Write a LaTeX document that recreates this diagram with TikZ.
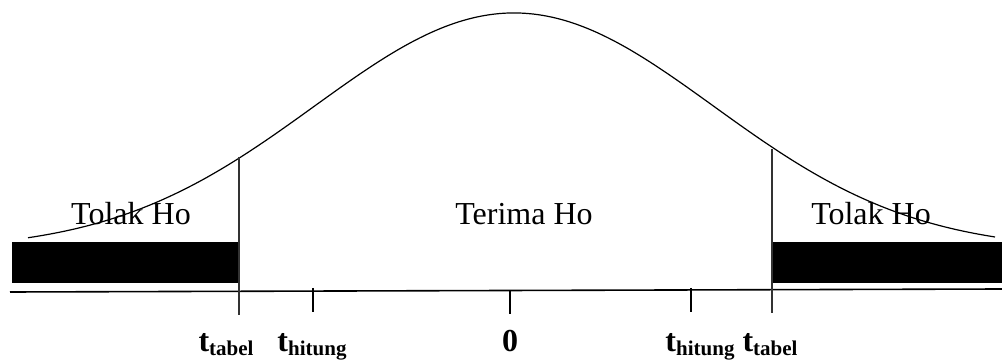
\documentclass[tikz,border=0pt]{standalone}
\usepackage{fontspec}
\setmainfont{Liberation Serif}
\newcommand{\tsubl}[1]{t\raisebox{-4pt}{\fontsize{21}{21}\selectfont #1}}

\begin{document}
\begin{tikzpicture}[
    x=1pt, y=-1pt,
    region/.style={font=\fontsize{32}{36}\selectfont, inner sep=0pt, anchor=base},
    tlab/.style={font=\fontsize{32}{36}\selectfont\bfseries, inner sep=0pt, anchor=base},
    bar/.style={fill=black},
    cut/.style={draw=black!80, line width=1.2pt},
    tick/.style={draw=black, line width=1.2pt},
  ]
    \useasboundingbox (0,0) rectangle (1002,363);
    \fill[bar] (12,242) rectangle (239,283);
    \fill[bar] (772,242) rectangle (1002,283);
    \draw[line width=1.2pt] plot[domain=28:995, samples=200, smooth]
      (\x, {250-237*exp(-((\x-514)/100)^2/7.9744)});
    \coordinate (axl) at (10,292);
    \coordinate (axr) at (1002,289);
    \draw[line width=1.6pt] (axl) -- (axr);
    \coordinate (cl) at (239,157);
    \coordinate (cld) at (239,315);
    \coordinate (cr) at (772,149);
    \coordinate (crd) at (772,313);
    \draw[cut] (cl) -- (cld);
    \draw[cut] (cr) -- (crd);
    \coordinate (hl) at (313,288);
    \coordinate (hld) at (313,312);
    \coordinate (z) at (510,291);
    \coordinate (zd) at (510,314);
    \coordinate (hr) at (691,288);
    \coordinate (hrd) at (691,312);
    \draw[tick] (hl) -- (hld);
    \draw[tick] (z) -- (zd);
    \draw[tick] (hr) -- (hrd);
    \node[region] (tolakl) at (131,225) {Tolak Ho};
    \node[region] (terima) at (524,225) {Terima Ho};
    \node[region] (tolakr) at (871,225) {Tolak Ho};
    \node[tlab] (ttabl) at (226,352) {\tsubl{tabel}};
    \node[tlab] (thitl) at (312,352) {\tsubl{hitung}};
    \node[tlab] (nol) at (510,352) {0};
    \node[tlab] (thitr) at (700,352) {\tsubl{hitung}};
    \node[tlab] (ttabr) at (770,352) {\tsubl{tabel}};
  \end{tikzpicture}
\end{document}
